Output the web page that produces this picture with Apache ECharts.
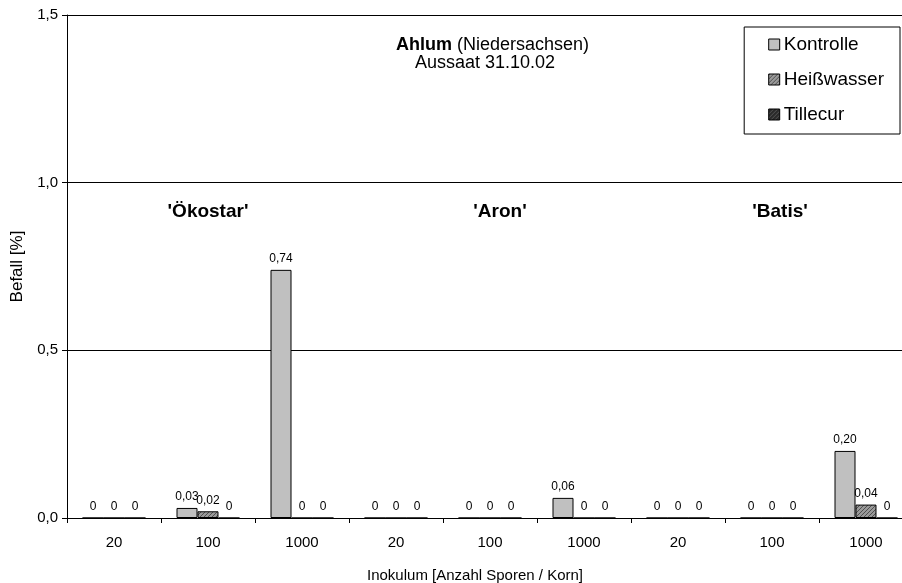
<!DOCTYPE html>
<html>
<head>
<meta charset="utf-8">
<script src="https://cdn.jsdelivr.net/npm/echarts@6/dist/echarts.min.js"></script>
<style>html,body{margin:0;padding:0;background:#fff;overflow:hidden}#c{width:902px;height:583px}</style>
</head>
<body>
<div id="c"></div>
<script>
var categories = ['20','100','1000','20','100','1000','20','100','1000'];
var seriesNames = ['Kontrolle','Heißwasser','Tillecur'];
var kontrolle = [0, 0.03, 0.74, 0, 0, 0.06, 0, 0, 0.20];
var heisswasser = [0, 0.02, 0, 0, 0, 0, 0, 0, 0.04];
var tillecur = [0, 0, 0, 0, 0, 0, 0, 0, 0];
var yTicks = [0, 0.5, 1.0, 1.5];
var cultivars = ["'Ökostar'", "'Aron'", "'Batis'"];

function pattern(base, dot) {
  var c = document.createElement('canvas');
  c.width = 4; c.height = 4;
  var g = c.getContext('2d');
  g.fillStyle = base; g.fillRect(0,0,4,4);
  g.fillStyle = dot;
  g.fillRect(0,0,1,1); g.fillRect(2,2,1,1); g.fillRect(1,3,1,1); g.fillRect(3,1,1,1);
  return {image: c, repeat: 'repeat'};
}
var colors = ['#c0c0c0', pattern('#9a9a9a', '#505050'), pattern('#2a2a2a', '#555555')];

var FONT = 'Liberation Sans, Arial, sans-serif';
function fmt(p) { return p.value === 0 ? '0' : p.value.toFixed(2).replace('.', ','); }

var dataSets = [kontrolle, heisswasser, tillecur];
var series = dataSets.map(function (d, i) {
  return {
    name: seriesNames[i], type: 'bar', data: d,
    barGap: 0, barCategoryGap: '33%',
    itemStyle: {color: colors[i], borderColor: '#000', borderWidth: 1},
    label: {show: true, position: 'top', distance: 5, formatter: fmt,
            fontFamily: FONT, fontSize: 12, color: '#000'},
    emphasis: {disabled: true}, animation: false
  };
});

var chart = echarts.init(document.getElementById('c'), null, {renderer: 'canvas'});
chart.setOption({
  animation: false,
  backgroundColor: '#fff',
  grid: {left: 67, width: 846, top: 15, bottom: 65, containLabel: false, outerBoundsMode: 'none'},
  legend: {
    data: seriesNames, orient: 'vertical', right: 2, top: 27,
    itemWidth: 11, itemHeight: 11, itemGap: 16,
    padding: [8, 16, 10, 24],
    borderColor: '#000', borderWidth: 1,
    icon: 'rect',
    textStyle: {fontFamily: FONT, fontSize: 19, color: '#000', lineHeight: 19, padding: [0,0,0,-1]},
    itemStyle: {borderColor: '#000', borderWidth: 1}
  },
  xAxis: {
    type: 'category', data: categories,
    axisLine: {lineStyle: {color: '#000', width: 1}},
    axisTick: {show: true, alignWithLabel: false, length: 5, lineStyle: {color: '#000'}},
    axisLabel: {fontFamily: FONT, fontSize: 15, color: '#000', margin: 17},
    name: 'Inokulum [Anzahl Sporen / Korn]', nameLocation: 'middle', nameGap: 50,
    nameTextStyle: {fontFamily: FONT, fontSize: 15, color: '#000', padding: [0, 30, 0, 0]}
  },
  yAxis: {
    type: 'value', min: yTicks[0], max: yTicks[yTicks.length - 1], interval: 0.5,
    axisLine: {show: true, lineStyle: {color: '#000', width: 1}},
    axisTick: {show: true, inside: false, length: 5, lineStyle: {color: '#000'}},
    axisLabel: {fontFamily: FONT, fontSize: 15, color: '#000', margin: 9,
                formatter: function (v) { return v.toFixed(1).replace('.', ','); }},
    splitLine: {show: true, lineStyle: {color: '#000', width: 1}},
    name: 'Befall [%]', nameLocation: 'middle', nameGap: 40,
    nameTextStyle: {fontFamily: FONT, fontSize: 17, color: '#000'}
  },
  graphic: [
    {type: 'text', x: 396, y: 45, style: {
      text: '{b|Ahlum} (Niedersachsen)', font: '18px ' + FONT, fill: '#000',
      align: 'left', verticalAlign: 'middle',
      rich: {b: {fontWeight: 'bold', fontFamily: FONT, fontSize: 18}}}},
    {type: 'text', x: 415, y: 63, style: {text: 'Aussaat 31.10.02', font: '18px ' + FONT, fill: '#000', align: 'left', verticalAlign: 'middle'}},
    {type: 'text', x: 208, y: 212, style: {text: cultivars[0], font: 'bold 19px ' + FONT, fill: '#000', align: 'center', verticalAlign: 'middle'}},
    {type: 'text', x: 500, y: 212, style: {text: cultivars[1], font: 'bold 19px ' + FONT, fill: '#000', align: 'center', verticalAlign: 'middle'}},
    {type: 'text', x: 780, y: 212, style: {text: cultivars[2], font: 'bold 19px ' + FONT, fill: '#000', align: 'center', verticalAlign: 'middle'}}
  ],
  series: series
});
</script>
</body>
</html>
